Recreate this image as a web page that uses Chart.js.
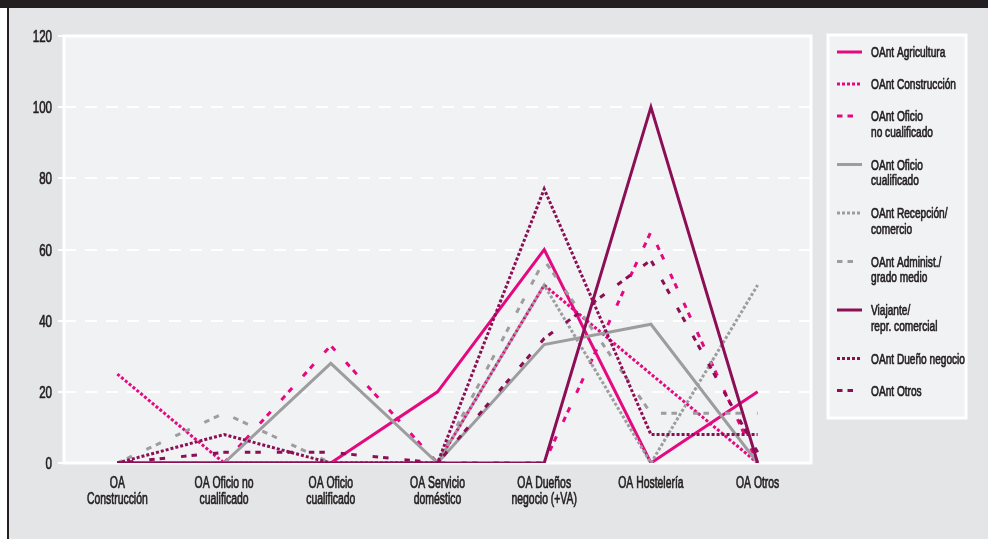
<!DOCTYPE html>
<html>
<head>
<meta charset="utf-8">
<script src="https://cdn.jsdelivr.net/npm/chart.js@4.4.1/dist/chart.umd.min.js"></script>
<style>
  html, body { margin: 0; padding: 0; }
  body { width: 988px; height: 539px; background: #ffffff; position: relative; overflow: hidden; }
  #panel { position: absolute; left: 7px; top: 0; width: 981px; height: 539px; background: #e4e5e6; border-left: 2px solid #231f20; box-sizing: border-box; }
  #bar { position: absolute; left: 0; top: 0; width: 988px; height: 8px; background: #231f20; }
  #wrap { position: absolute; left: 0; top: 0; width: 988px; height: 539px; }
</style>
</head>
<body>
<div id="panel"></div>
<div id="bar"></div>
<div id="wrap"><canvas id="c" width="988" height="539"></canvas></div>
<script>
// Categories (x axis), two-line labels
const categories = [
  ["OA", "Construcción"],
  ["OA Oficio no", "cualificado"],
  ["OA Oficio", "cualificado"],
  ["OA Servicio", "doméstico"],
  ["OA Dueños", "negocio (+VA)"],
  ["OA Hostelería"],
  ["OA Otros"]
];

// Series values (%)
const agricultura     = [0, 0, 0, 20, 60, 0, 20];
const construccion    = [25, 0, 0, 0, 50, 25, 0];
const oficioNoCualif  = [0, 0, 33, 0, 0, 65, 0];
const oficioCualif    = [0, 0, 28, 0, 33.3, 39, 0];
const recepcion       = [0, 0, 0, 0, 50, 0, 50];
const administ        = [0, 14, 0, 0, 57, 14, 14];
const viajante        = [0, 0, 0, 0, 0, 100, 0];
const duenoNegocio    = [0, 8, 0, 0, 77, 8, 8];
const otros           = [0, 3, 3, 0, 35, 57, 3];

// Legend names (line breaks as in the legend box)
const seriesNames = [
  ["OAnt Agricultura"],
  ["OAnt Construcción"],
  ["OAnt Oficio", "no cualificado"],
  ["OAnt Oficio", "cualificado"],
  ["OAnt Recepción/", "comercio"],
  ["OAnt Administ./", "grado medio"],
  ["Viajante/", "repr. comercial"],
  ["OAnt Dueño negocio"],
  ["OAnt Otros"]
];

// Y axis ticks
const yTicks = [0, 20, 40, 60, 80, 100, 120];

const FONT = '"Liberation Sans", Arial, sans-serif';
const PINK = '#e5097f';
const GREY = '#9d9d9f';
const PLUM = '#8c0f55';
const TEXT = '#231f20';

const SOLID = [];
const DOTTED = [3, 2];
const DASHED = [5.5, 5, 5.5, 16];

const seriesValues = [agricultura, construccion, oficioNoCualif, oficioCualif, recepcion, administ, viajante, duenoNegocio, otros];
const seriesColors = [PINK, PINK, PINK, GREY, GREY, GREY, PLUM, PLUM, PLUM];
const seriesDash   = [SOLID, DOTTED, DASHED, SOLID, DOTTED, DASHED, SOLID, DOTTED, DASHED];

const datasets = seriesValues.map((vals, i) => ({
  label: seriesNames[i].join(' '),
  data: vals,
  borderColor: seriesColors[i],
  backgroundColor: seriesColors[i],
  borderWidth: 3,
  borderDash: seriesDash[i],
  borderJoinStyle: 'miter',
  borderCapStyle: 'butt',
  pointRadius: 0,
  pointHoverRadius: 0,
  tension: 0,
  fill: false,
  order: seriesValues.length - i
}));

// Narrow text: a regular face squeezed horizontally, lightly stroked for a medium weight
function narrowText(ctx, text, x, y, align, size, sx) {
  ctx.save();
  ctx.translate(x, y);
  ctx.scale(sx, 1);
  ctx.font = size + 'px ' + FONT;
  ctx.fillStyle = TEXT;
  ctx.strokeStyle = TEXT;
  ctx.lineWidth = 0.7;
  ctx.lineJoin = 'round';
  ctx.setLineDash([]);
  ctx.textAlign = align;
  ctx.textBaseline = 'alphabetic';
  ctx.fillText(text, 0, 0);
  ctx.strokeText(text, 0, 0);
  ctx.restore();
}

// Plot area fill and white frame
const framePlugin = {
  id: 'frame',
  beforeDraw(chart) {
    const { ctx, chartArea: a } = chart;
    ctx.save();
    ctx.fillStyle = '#f1f2f4';
    ctx.fillRect(a.left, a.top, a.right - a.left, a.bottom - a.top);
    ctx.restore();
  },
  beforeDatasetsDraw(chart) {
    const { ctx, chartArea: a } = chart;
    ctx.save();
    ctx.strokeStyle = '#ffffff';
    ctx.lineWidth = 3;
    ctx.setLineDash([]);
    ctx.strokeRect(a.left, a.top, a.right - a.left, a.bottom - a.top);
    ctx.restore();
  }
};

// Axis labels in the narrow face, placed by the chart's own scales
const axisLabelPlugin = {
  id: 'axisLabels',
  afterDraw(chart) {
    const { ctx, scales } = chart;
    const xs = scales.x, ys = scales.y;
    xs.ticks.forEach((t, i) => {
      const x = xs.getPixelForTick(i);
      const lines = [].concat(xs.getLabelForValue(t.value));
      lines.forEach((s, k) => narrowText(ctx, s, x, 488 + k * 16, 'center', 16, 0.65));
    });
    ys.ticks.forEach(t => {
      const y = ys.getPixelForValue(t.value);
      narrowText(ctx, String(t.value), 52, y + 6, 'right', 17, 0.68);
    });
  }
};

// Boxed legend on the right with multi-line names
const legendPlugin = {
  id: 'boxLegend',
  afterDraw(chart) {
    const { ctx } = chart;
    const box = { x: 828, y: 35, w: 138, h: 383 };
    ctx.save();
    ctx.fillStyle = '#f1f2f4';
    ctx.fillRect(box.x, box.y, box.w, box.h);
    ctx.strokeStyle = '#ffffff';
    ctx.lineWidth = 3;
    ctx.strokeRect(box.x, box.y, box.w, box.h);

    let y = 52;
    chart.data.datasets.forEach((ds, i) => {
      const lines = seriesNames[i];
      ctx.beginPath();
      ctx.strokeStyle = ds.borderColor;
      ctx.lineWidth = 3;
      ctx.setLineDash(ds.borderDash);
      ctx.lineCap = 'butt';
      ctx.moveTo(837, y);
      ctx.lineTo(862, y);
      ctx.stroke();
      ctx.setLineDash([]);
      lines.forEach((t, k) => narrowText(ctx, t, 871, y + 5.3 + k * 15.5, 'left', 15, 0.675));
      y += 32 + (lines.length - 1) * 16.5;
    });
    ctx.restore();
  }
};

new Chart(document.getElementById('c'), {
  type: 'line',
  data: { labels: categories, datasets },
  plugins: [framePlugin, axisLabelPlugin, legendPlugin],
  options: {
    responsive: false,
    animation: false,
    events: [],
    layout: { padding: { left: 0, right: 177, top: 36, bottom: 0 } },
    plugins: { legend: { display: false }, tooltip: { enabled: false } },
    scales: {
      x: {
        type: 'category',
        offset: true,
        grid: { display: false, drawTicks: false },
        border: { display: false },
        ticks: { display: false, autoSkip: false, maxRotation: 0 },
        afterFit(s) { s.height = 539 - 463; }
      },
      y: {
        min: 0,
        max: 120,
        afterBuildTicks(s) { s.ticks = yTicks.map(v => ({ value: v })); },
        ticks: { display: false },
        grid: {
          color: c => (c.tick && (c.tick.value === 0 || c.tick.value === 120)) ? 'rgba(0,0,0,0)' : '#ffffff',
          lineWidth: 2,
          tickColor: '#ffffff',
          tickLength: 6,
          tickWidth: 2
        },
        border: { display: false, dash: [12, 9] },
        afterFit(s) { s.width = 64; }
      }
    }
  }
});
</script>
</body>
</html>
